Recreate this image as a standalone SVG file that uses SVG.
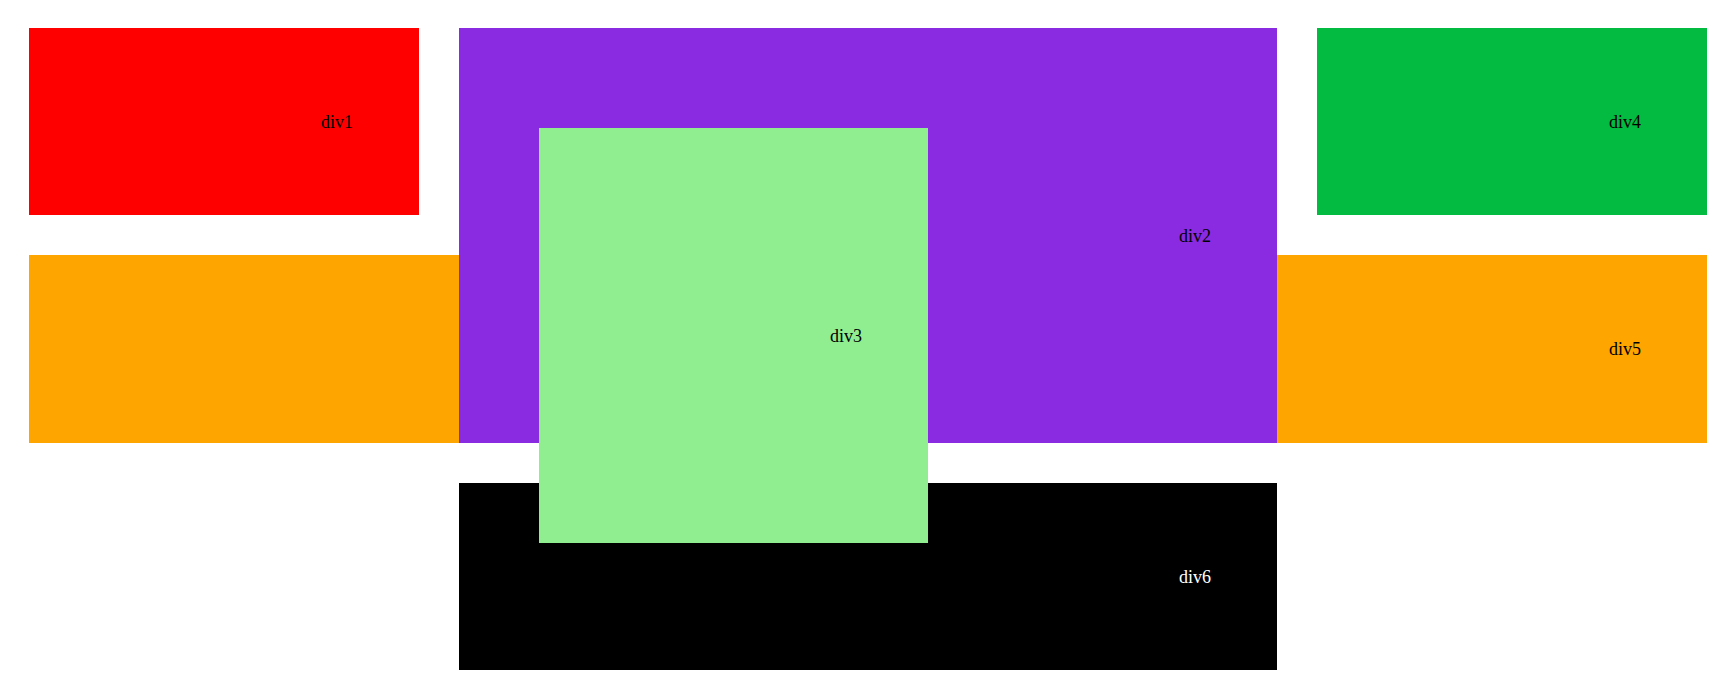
<svg xmlns="http://www.w3.org/2000/svg" width="1726" height="688" viewBox="0 0 1726 688">
<style>
text{font-family:"Liberation Serif","Times New Roman",serif;font-size:18px;fill:#000;text-anchor:end}
#div6 text{fill:#fff}
</style>
<rect width="1726" height="688" fill="#fff"/>
<g id="div1"><rect x="29" y="28" width="390" height="187" fill="#ff0000"/><text x="353" y="127.5">div1</text></g>
<g id="div5"><rect x="29" y="255" width="1678" height="188" fill="#ffa500"/><text x="1641" y="355">div5</text></g>
<g id="div2"><rect x="459" y="28" width="818" height="415" fill="#8a2be2"/><text x="1211" y="241.5">div2</text></g>
<g id="div4"><rect x="1317" y="28" width="390" height="187" fill="#03bb40"/><text x="1641" y="127.5">div4</text></g>
<g id="div6"><rect x="459" y="483" width="818" height="187" fill="#000"/><text x="1211" y="582.5">div6</text></g>
<g id="div3"><rect x="539" y="128" width="389" height="415" fill="#90ee90"/><text x="862" y="341.5">div3</text></g>
<g id="connectors"></g>
</svg>
